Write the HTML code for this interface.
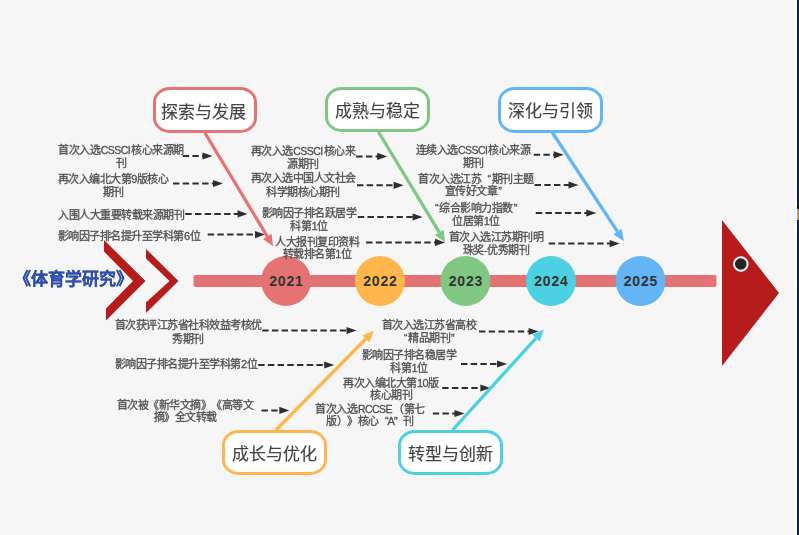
<!DOCTYPE html>
<html lang="zh-CN"><head><meta charset="utf-8">
<style>
html,body{margin:0;padding:0;}
body{width:799px;height:535px;overflow:hidden;background:#f6f6f6;position:relative;font-family:"Liberation Sans",sans-serif;}
svg{position:absolute;left:0;top:0;}
.t,.b,.title{will-change:transform;}
.t{-webkit-text-stroke:0.3px #505050;}
.t{position:absolute;width:240px;text-align:center;white-space:nowrap;font-size:11px;line-height:13px;color:#505050;text-spacing-trim:space-all;letter-spacing:-0.5px;}
.l{font-size:10.5px;letter-spacing:-0.55px;margin-right:1px;margin-left:0.5px;}
.qo{margin-left:6px;margin-right:1px;}
.qc{margin-left:1px;margin-right:6px;}
.b{position:absolute;box-sizing:border-box;border:3px solid;border-radius:17px/15px;-webkit-text-stroke:0.15px #444;background:#fff;font-size:17px;color:#444;display:flex;align-items:center;justify-content:center;white-space:nowrap;}
.title{position:absolute;left:0;top:0;font-size:17px;font-weight:bold;color:#2f4ea8;-webkit-text-stroke:0.15px #2f4ea8;white-space:nowrap;}
.strip{position:absolute;left:796px;top:0;width:3px;height:535px;background:#0e1f48;border-left:1px solid #fff;box-sizing:border-box;}
</style></head><body>

<svg width="799" height="535" viewBox="0 0 799 535"><rect x="193.5" y="275" width="523" height="12" rx="2" fill="#e57373"/><line x1="182.7" y1="156" x2="203.5" y2="156" stroke="#2e2e2e" stroke-width="2" stroke-dasharray="6.4 3.3"/><polygon points="212.5,156 202.5,152.4 202.5,159.6" fill="#2e2e2e"/><line x1="173" y1="183.5" x2="214" y2="183.5" stroke="#2e2e2e" stroke-width="2" stroke-dasharray="6.4 3.3"/><polygon points="223,183.5 213,179.9 213,187.1" fill="#2e2e2e"/><line x1="185.3" y1="213.9" x2="238.5" y2="213.9" stroke="#2e2e2e" stroke-width="2" stroke-dasharray="6.4 3.3"/><polygon points="247.5,213.9 237.5,210.3 237.5,217.5" fill="#2e2e2e"/><line x1="207.7" y1="234.6" x2="256" y2="234.6" stroke="#2e2e2e" stroke-width="2" stroke-dasharray="6.4 3.3"/><polygon points="265,234.6 255,231.0 255,238.2" fill="#2e2e2e"/><line x1="356.2" y1="156.4" x2="378.2" y2="156.4" stroke="#2e2e2e" stroke-width="2" stroke-dasharray="6.4 3.3"/><polygon points="387.2,156.4 377.2,152.8 377.2,160.0" fill="#2e2e2e"/><line x1="357" y1="185.3" x2="394.6" y2="185.3" stroke="#2e2e2e" stroke-width="2" stroke-dasharray="6.4 3.3"/><polygon points="403.6,185.3 393.6,181.70000000000002 393.6,188.9" fill="#2e2e2e"/><line x1="357.8" y1="217" x2="413.6" y2="217" stroke="#2e2e2e" stroke-width="2" stroke-dasharray="6.4 3.3"/><polygon points="422.6,217 412.6,213.4 412.6,220.6" fill="#2e2e2e"/><line x1="366.1" y1="242.4" x2="436" y2="242.4" stroke="#2e2e2e" stroke-width="2" stroke-dasharray="6.4 3.3"/><polygon points="445,242.4 435,238.8 435,246.0" fill="#2e2e2e"/><line x1="533.7" y1="154.8" x2="554.7" y2="154.8" stroke="#2e2e2e" stroke-width="2" stroke-dasharray="6.4 3.3"/><polygon points="563.7,154.8 553.7,151.20000000000002 553.7,158.4" fill="#2e2e2e"/><line x1="534.6" y1="185" x2="569.5" y2="185" stroke="#2e2e2e" stroke-width="2" stroke-dasharray="6.4 3.3"/><polygon points="578.5,185 568.5,181.4 568.5,188.6" fill="#2e2e2e"/><line x1="535.8" y1="213" x2="587.3" y2="213" stroke="#2e2e2e" stroke-width="2" stroke-dasharray="6.4 3.3"/><polygon points="596.3,213 586.3,209.4 586.3,216.6" fill="#2e2e2e"/><line x1="548.7" y1="243.6" x2="610.6" y2="243.6" stroke="#2e2e2e" stroke-width="2" stroke-dasharray="6.4 3.3"/><polygon points="619.6,243.6 609.6,240.0 609.6,247.2" fill="#2e2e2e"/><line x1="262.2" y1="330.5" x2="347.5" y2="330.5" stroke="#2e2e2e" stroke-width="2" stroke-dasharray="6.4 3.3"/><polygon points="356.5,330.5 346.5,326.9 346.5,334.1" fill="#2e2e2e"/><line x1="258.2" y1="365" x2="325.2" y2="365" stroke="#2e2e2e" stroke-width="2" stroke-dasharray="6.4 3.3"/><polygon points="334.2,365 324.2,361.4 324.2,368.6" fill="#2e2e2e"/><line x1="261.5" y1="410.4" x2="280.3" y2="410.4" stroke="#2e2e2e" stroke-width="2" stroke-dasharray="6.4 3.3"/><polygon points="289.3,410.4 279.3,406.79999999999995 279.3,414.0" fill="#2e2e2e"/><line x1="479" y1="331.5" x2="529.6" y2="331.5" stroke="#2e2e2e" stroke-width="2" stroke-dasharray="6.4 3.3"/><polygon points="538.6,331.5 528.6,327.9 528.6,335.1" fill="#2e2e2e"/><line x1="461" y1="364" x2="498" y2="364" stroke="#2e2e2e" stroke-width="2" stroke-dasharray="6.4 3.3"/><polygon points="507,364 497,360.4 497,367.6" fill="#2e2e2e"/><line x1="442.2" y1="388" x2="481.4" y2="388" stroke="#2e2e2e" stroke-width="2" stroke-dasharray="6.4 3.3"/><polygon points="490.4,388 480.4,384.4 480.4,391.6" fill="#2e2e2e"/><line x1="432.8" y1="413.5" x2="455.5" y2="413.5" stroke="#2e2e2e" stroke-width="2" stroke-dasharray="6.4 3.3"/><polygon points="464.5,413.5 454.5,409.9 454.5,417.1" fill="#2e2e2e"/><line x1="205" y1="133" x2="267.27" y2="236.35" stroke="#e57373" stroke-width="3.3"/><polygon points="273.20,246.20 262.98,238.93 271.55,233.77" fill="#e57373"/><line x1="378.5" y1="132" x2="439.25" y2="232.36" stroke="#81c784" stroke-width="3.3"/><polygon points="445.20,242.20 434.97,234.95 443.52,229.77" fill="#81c784"/><line x1="552" y1="132" x2="617.48" y2="231.59" stroke="#64b5f6" stroke-width="3.3"/><polygon points="623.80,241.20 613.30,234.34 621.66,228.84" fill="#64b5f6"/><line x1="276" y1="430" x2="365.73" y2="338.99" stroke="#ffb74d" stroke-width="3.3"/><polygon points="373.80,330.80 369.29,342.50 362.17,335.48" fill="#ffb74d"/><line x1="452.6" y1="430" x2="536.07" y2="338.02" stroke="#4dd0e1" stroke-width="3.3"/><polygon points="543.80,329.50 539.77,341.38 532.37,334.66" fill="#4dd0e1"/><circle cx="286" cy="281" r="25" fill="#e57373"/><text x="286.4" y="286.3" text-anchor="middle" font-family="Liberation Sans" font-weight="bold" font-size="14" letter-spacing="0.8" fill="#333">2021</text><circle cx="380" cy="281" r="25" fill="#ffb74d"/><text x="380.4" y="286.3" text-anchor="middle" font-family="Liberation Sans" font-weight="bold" font-size="14" letter-spacing="0.8" fill="#333">2022</text><circle cx="465.5" cy="281" r="25" fill="#81c784"/><text x="465.9" y="286.3" text-anchor="middle" font-family="Liberation Sans" font-weight="bold" font-size="14" letter-spacing="0.8" fill="#333">2023</text><circle cx="551" cy="281" r="25" fill="#4dd0e1"/><text x="551.4" y="286.3" text-anchor="middle" font-family="Liberation Sans" font-weight="bold" font-size="14" letter-spacing="0.8" fill="#333">2024</text><circle cx="640.5" cy="281" r="25" fill="#64b5f6"/><text x="640.9" y="286.3" text-anchor="middle" font-family="Liberation Sans" font-weight="bold" font-size="14" letter-spacing="0.8" fill="#333">2025</text><polygon points="104,240 145.5,281 106,320.5 106,308.5 133,281 104,251.5" fill="#b71c1c"/><polygon points="146,249 178.5,281 146,313 146,302.5 169.5,281 146,258.5" fill="#b71c1c"/><polygon points="722,220 779,293 722,366" fill="#b71c1c"/><circle cx="740.8" cy="264" r="6.8" fill="#252525" stroke="#f2f2f2" stroke-width="2"/></svg>
<div class="b" style="left:153px;top:87px;width:104px;height:46px;border-color:#e57373;padding-right:3.0px;">探索与发展</div>
<div class="b" style="left:325px;top:87px;width:105px;height:45px;border-color:#81c784;">成熟与稳定</div>
<div class="b" style="left:498px;top:87px;width:105px;height:45.5px;border-color:#64b5f6;">深化与引领</div>
<div class="b" style="left:222px;top:430px;width:105px;height:44.5px;border-color:#ffb74d;">成长与优化</div>
<div class="b" style="left:398px;top:430px;width:105px;height:44.5px;border-color:#4dd0e1;">转型与创新</div>
<div class="t" style="left:0.5px;top:144.45px;line-height:12.50px">首次入选<span class="l">CSSCI</span>核心来源期<br>刊</div>
<div class="t" style="left:-7.4px;top:173.25px;line-height:12.50px">再次入编北大第9版核心<br>期刊</div>
<div class="t" style="left:0.5px;top:208.80px;line-height:13.00px">入围人大重要转载来源期刊</div>
<div class="t" style="left:9.0px;top:230.10px;line-height:13.00px">影响因子排名提升至学科第6位</div>
<div class="t" style="left:183.0px;top:145.05px;line-height:12.70px">再次入选<span class="l">CSSCI</span>核心来<br>源期刊</div>
<div class="t" style="left:183.4px;top:171.55px;line-height:13.70px">再次入选中国人文社会<br>科学期核心期刊</div>
<div class="t" style="left:189.0px;top:206.50px;line-height:12.60px">影响因子排名跃居学<br>科第1位</div>
<div class="t" style="left:197.0px;top:236.30px;line-height:12.40px">人大报刊复印资料<br>转载排名第1位</div>
<div class="t" style="left:352.5px;top:143.50px;line-height:13.20px">连续入选<span class="l">CSSCI</span>核心来源<br>期刊</div>
<div class="t" style="left:356.0px;top:173.30px;line-height:12.00px">首次入选江苏<span class="qo">“</span>期刊主题<br>宣传好文章<span class="qc">”</span></div>
<div class="t" style="left:355.6px;top:202.25px;line-height:12.90px"><span class="qo">“</span>综合影响力指数<span class="qc">”</span><br>位居第1位</div>
<div class="t" style="left:376.2px;top:231.30px;line-height:12.80px">首次入选江苏期刊明<br>珠奖-优秀期刊</div>
<div class="t" style="left:67.6px;top:319.15px;line-height:13.50px">首次获评江苏省社科效益考核优<br>秀期刊</div>
<div class="t" style="left:65.7px;top:358.20px;line-height:13.00px">影响因子排名提升至学科第2位</div>
<div class="t" style="left:64.5px;top:398.90px;line-height:12.20px">首次被《新华文摘》《高等文<br>摘》全文转载</div>
<div class="t" style="left:309.0px;top:318.75px;line-height:13.10px">首次入选江苏省高校<br><span class="qo">“</span>精品期刊<span class="qc">”</span></div>
<div class="t" style="left:288.5px;top:348.75px;line-height:13.10px">影响因子排名稳居学<br>科第1位</div>
<div class="t" style="left:271.0px;top:377.10px;line-height:12.00px">再次入编北大第10版<br>核心期刊</div>
<div class="t" style="left:250.0px;top:403.10px;line-height:12.00px">首次入选<span class="l">RCCSE</span>（第七<br>版）》核心<span class="qo" style="margin-right:-0.5px">“</span>A<span class="qc" style="margin-left:-0.5px">”</span>刊</div>
<div class="title" style="left:14px;top:264.5px">《体育学研究》</div>
<div class="strip"></div>
<div style="position:absolute;left:797px;top:205px;width:2px;height:4px;background:#111"></div>
<div style="position:absolute;left:797px;top:209px;width:2px;height:11px;background:#c8742a;border-left:0.6px solid #8fb8e8;box-sizing:border-box"></div>
</body></html>
